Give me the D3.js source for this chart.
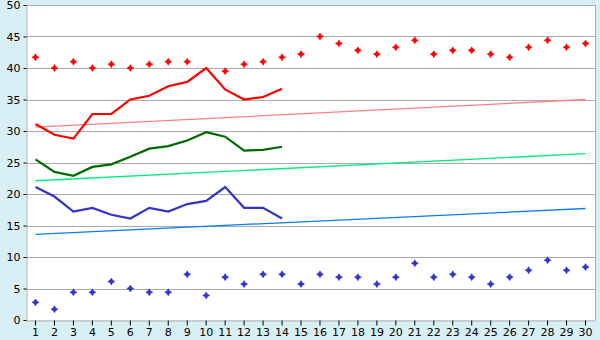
<!DOCTYPE html>
<html>
<head>
<meta charset="utf-8">
<script src="https://cdn.jsdelivr.net/npm/d3@7"></script>
<style>
  body { margin: 0; background: #d9eff6; }
  svg { display: block; }
  .tick text { font-family: "DejaVu Sans", Verdana, sans-serif; font-size: 11px; fill: #000; }
</style>
</head>
<body>
<div id="chart"></div>
<script>
// categories 1..30
const days = ['1','2','3','4','5','6','7','8','9','10','11','12','13','14','15',
              '16','17','18','19','20','21','22','23','24','25','26','27','28','29','30'];
const yTicks = [0, 5, 10, 15, 20, 25, 30, 35, 40, 45, 50];

// top scatter (red markers), no marker at 10
const redPoints = [41.7, 40.0, 41.0, 40.0, 40.6, 40.0, 40.6, 41.0, 41.0, null,
                   39.5, 40.6, 41.0, 41.7, 42.2, 45.0, 43.9, 42.8, 42.2, 43.3,
                   44.4, 42.2, 42.8, 42.8, 42.2, 41.7, 43.3, 44.4, 43.3, 43.9];
// bottom scatter (blue markers)
const bluePoints = [2.8, 1.7, 4.4, 4.4, 6.1, 5.0, 4.4, 4.4, 7.25, 3.9,
                    6.8, 5.7, 7.25, 7.25, 5.7, 7.25, 6.8, 6.8, 5.7, 6.8,
                    9.0, 6.8, 7.25, 6.8, 5.7, 6.8, 7.9, 9.5, 7.9, 8.4];

// lines for first 14 days
const redLine = [31.1, 29.4, 28.8, 32.7, 32.7, 35.0, 35.6, 37.1, 37.8, 40.0, 36.6, 35.0, 35.4, 36.7];
const greenLine = [25.5, 23.5, 22.9, 24.3, 24.7, 25.9, 27.2, 27.6, 28.5, 29.8, 29.1, 26.9, 27.0, 27.5];
const blueLine = [21.1, 19.6, 17.2, 17.8, 16.7, 16.1, 17.8, 17.2, 18.4, 18.9, 21.1, 17.8, 17.8, 16.1];

// trend lines: value at day 1 and day 30
const redTrend = [30.6, 35.0];
const greenTrend = [22.1, 26.4];
const blueTrend = [13.6, 17.7];

const W = 600, H = 340;
const margin = { top: 5, right: 5, bottom: 20, left: 26 };
const width = W - margin.left - margin.right;
const height = H - margin.top - margin.bottom;

const svg = d3.select('#chart').append('svg')
    .attr('width', W)
    .attr('height', H);

const g = svg.append('g')
    .attr('transform', `translate(${margin.left},${margin.top})`);

const x = d3.scaleBand().domain(days).range([0, width]);
const y = d3.scaleLinear().domain([0, 50]).range([height, 0]);
const cx = d => x(d) + x.bandwidth() / 2;

// plot background
g.append('rect')
    .attr('width', width)
    .attr('height', height)
    .attr('fill', '#fff');

// gridlines
g.selectAll('.grid')
    .data(yTicks.filter(t => t > 0))
    .enter()
    .append('line')
    .attr('x1', 0)
    .attr('x2', width)
    .attr('y1', d => Math.round(y(d)) + 0.5)
    .attr('y2', d => Math.round(y(d)) + 0.5)
    .attr('stroke', '#aaa')
    .attr('stroke-width', 1);

// right border
g.append('line')
    .attr('x1', width + 0.5).attr('x2', width + 0.5)
    .attr('y1', 0).attr('y2', height)
    .attr('stroke', '#aaa');

// trend lines
const trends = [
    { vals: redTrend, color: '#ff8080' },
    { vals: greenTrend, color: '#00f07a' },
    { vals: blueTrend, color: '#0a7cf0' }
];
trends.forEach(t => {
    g.append('line')
        .attr('x1', cx(days[0]))
        .attr('x2', cx(days[days.length - 1]))
        .attr('y1', y(t.vals[0]))
        .attr('y2', y(t.vals[1]))
        .attr('stroke', t.color)
        .attr('stroke-width', 1.3);
});

// lines
const line = d3.line()
    .x((d, i) => cx(days[i]))
    .y(d => y(d));

[
    { vals: redLine, color: '#ff0000' },
    { vals: greenLine, color: '#006a00' },
    { vals: blueLine, color: '#3333cc' }
].forEach(s => {
    g.append('path')
        .datum(s.vals)
        .attr('d', line)
        .attr('fill', 'none')
        .attr('stroke', s.color)
        .attr('stroke-width', 2.2);
});

// markers
const star = 'M0,-3.5L1.3,-1.3L3.5,0L1.3,1.3L0,3.5L-1.3,1.3L-3.5,0L-1.3,-1.3Z';
[
    { vals: redPoints, color: '#ff0000' },
    { vals: bluePoints, color: '#3333cc' }
].forEach(s => {
    g.selectAll(null)
        .data(s.vals.map((v, i) => ({ day: days[i], v })).filter(d => d.v !== null))
        .enter()
        .append('path')
        .attr('d', star)
        .attr('transform', d => `translate(${cx(d.day)},${y(d.v)})`)
        .attr('fill', s.color)
        .attr('stroke', s.color)
        .attr('stroke-width', 0.6);
});

// axes
const yAxis = g.append('g')
    .attr('transform', 'translate(0.5,0)')
    .call(d3.axisLeft(y).tickValues(yTicks).tickSize(3).tickPadding(3));
yAxis.select('.domain').attr('stroke', '#aaa');
yAxis.selectAll('.tick line').attr('stroke', '#000');
yAxis.selectAll('.tick text').attr('dy', '0.35em');

const xAxis = g.append('g')
    .attr('transform', `translate(0,${height + 0.5})`)
    .call(d3.axisBottom(x).tickSize(5).tickSizeOuter(0).tickPadding(3));
xAxis.select('.domain').attr('stroke', '#aaa');
xAxis.selectAll('.tick line').attr('stroke', '#000');
</script>
</body>
</html>
